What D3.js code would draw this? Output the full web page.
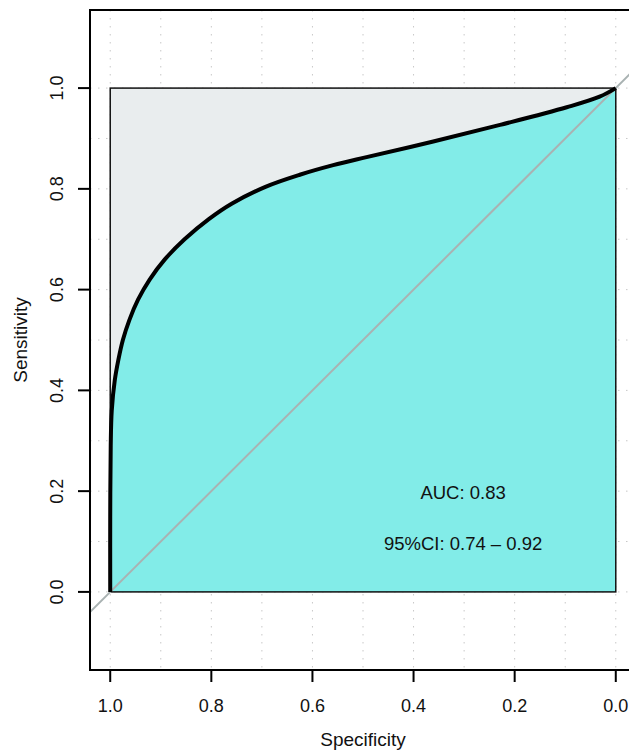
<!DOCTYPE html>
<html lang="en">
<head>
<meta charset="utf-8">
<title>ROC curve</title>
<script src="https://cdn.jsdelivr.net/npm/d3@7"></script>
<style>
  body { margin: 0; background: #fff; }
  text { font-family: "Liberation Sans", Arial, Helvetica, sans-serif; fill: #111; }
</style>
</head>
<body>
<div id="chart"></div>
<script>
// smoothed ROC curve
var specificity = [1.0, 1.0, 0.999, 0.997, 0.991, 0.984, 0.975, 0.962, 0.945, 0.922, 0.892, 0.853, 0.805, 0.759, 0.693, 0.625, 0.559, 0.493, 0.361, 0.229, 0.097, 0.032, 0.0];
var sensitivity = [0.0, 0.15, 0.29, 0.36, 0.42, 0.46, 0.50, 0.54, 0.58, 0.62, 0.66, 0.70, 0.74, 0.771, 0.804, 0.828, 0.847, 0.863, 0.894, 0.927, 0.962, 0.983, 1.0];
var xTicks = [1.0, 0.8, 0.6, 0.4, 0.2, 0.0];
var yTicks = [0.0, 0.2, 0.4, 0.6, 0.8, 1.0];
var gridVals = d3.range(0, 11).map(function (i) { return i / 10; });
var aucLabel = "AUC: 0.83";
var ciLabel = "95%CI: 0.74 \u2013 0.92";

var width = 629, height = 755;
var box = { left: 90, right: 636, top: 10, bottom: 670 };

var x = d3.scaleLinear().domain([1.04, -0.04]).range([box.left, box.right]);
var y = d3.scaleLinear().domain([-0.155, 1.155]).range([box.bottom, box.top]);

var svg = d3.select("#chart").append("svg")
    .attr("width", width)
    .attr("height", height);

// dotted grid
var grid = svg.append("g").attr("stroke", "#c8c8c8").attr("stroke-width", 1)
    .attr("stroke-dasharray", "1.5,6.5");
gridVals.forEach(function (v) {
  grid.append("line").attr("x1", x(v)).attr("x2", x(v)).attr("y1", box.top).attr("y2", box.bottom);
  grid.append("line").attr("x1", box.left).attr("x2", box.right).attr("y1", y(v)).attr("y2", y(v));
});

// max auc polygon
svg.append("rect")
    .attr("x", x(1)).attr("y", y(1))
    .attr("width", x(0) - x(1)).attr("height", y(0) - y(1))
    .attr("fill", "#e9edee");

var pts = specificity.map(function (s, i) { return { sp: s, se: sensitivity[i] }; });

// auc polygon
var area = d3.area()
    .curve(d3.curveCatmullRom.alpha(0.5))
    .y(function (d) { return y(d.se); })
    .x0(function (d) { return x(d.sp); })
    .x1(x(0));

svg.append("path")
    .datum(pts)
    .attr("d", area)
    .attr("fill", "#82ece8");

svg.append("rect")
    .attr("x", x(1)).attr("y", y(1))
    .attr("width", x(0) - x(1)).attr("height", y(0) - y(1))
    .attr("fill", "none")
    .attr("stroke", "#111").attr("stroke-width", 1.5);

// chance line, clipped to the plot box
svg.append("clipPath").attr("id", "clip").append("rect")
    .attr("x", box.left).attr("y", box.top)
    .attr("width", box.right - box.left).attr("height", box.bottom - box.top);

svg.append("line")
    .attr("clip-path", "url(#clip)")
    .attr("x1", x(1.04)).attr("y1", y(-0.04))
    .attr("x2", x(-0.2)).attr("y2", y(1.2))
    .attr("stroke", "#a9b2b2").attr("stroke-width", 2);

// roc curve
var line = d3.line()
    .curve(d3.curveCatmullRom.alpha(0.5))
    .x(function (d) { return x(d.sp); })
    .y(function (d) { return y(d.se); });

svg.append("path")
    .datum(pts)
    .attr("d", line)
    .attr("fill", "none")
    .attr("stroke", "#000")
    .attr("stroke-width", 4)
    .attr("stroke-linejoin", "round");

// plot frame
svg.append("rect")
    .attr("x", box.left).attr("y", box.top)
    .attr("width", box.right - box.left).attr("height", box.bottom - box.top)
    .attr("fill", "none").attr("stroke", "#000").attr("stroke-width", 2);

// x axis
var xAxis = svg.append("g");
xTicks.forEach(function (v) {
  xAxis.append("line").attr("x1", x(v)).attr("x2", x(v)).attr("y1", box.bottom).attr("y2", box.bottom + 12)
      .attr("stroke", "#000").attr("stroke-width", 2);
  xAxis.append("text").attr("x", x(v)).attr("y", 712)
      .attr("text-anchor", "middle").style("font-size", "18px")
      .text(d3.format(".1f")(v));
});

// y axis
var yAxis = svg.append("g");
yTicks.forEach(function (v) {
  yAxis.append("line").attr("x1", box.left - 12).attr("x2", box.left).attr("y1", y(v)).attr("y2", y(v))
      .attr("stroke", "#000").attr("stroke-width", 2);
  yAxis.append("text")
      .attr("transform", "translate(63," + y(v) + ") rotate(-90)")
      .attr("text-anchor", "middle").style("font-size", "18px")
      .text(d3.format(".1f")(v));
});

svg.append("text")
    .attr("x", (x(1) + x(0)) / 2).attr("y", 746)
    .attr("text-anchor", "middle").style("font-size", "19px")
    .text("Specificity");

svg.append("text")
    .attr("transform", "translate(27," + (y(0) + y(1)) / 2 + ") rotate(-90)")
    .attr("text-anchor", "middle").style("font-size", "19px")
    .text("Sensitivity");

// auc text
svg.append("text")
    .attr("x", x(0.302)).attr("y", y(0.185))
    .attr("text-anchor", "middle").style("font-size", "18.5px")
    .text(aucLabel);

svg.append("text")
    .attr("x", x(0.302)).attr("y", y(0.083))
    .attr("text-anchor", "middle").style("font-size", "18.5px")
    .text(ciLabel);
</script>
</body>
</html>
